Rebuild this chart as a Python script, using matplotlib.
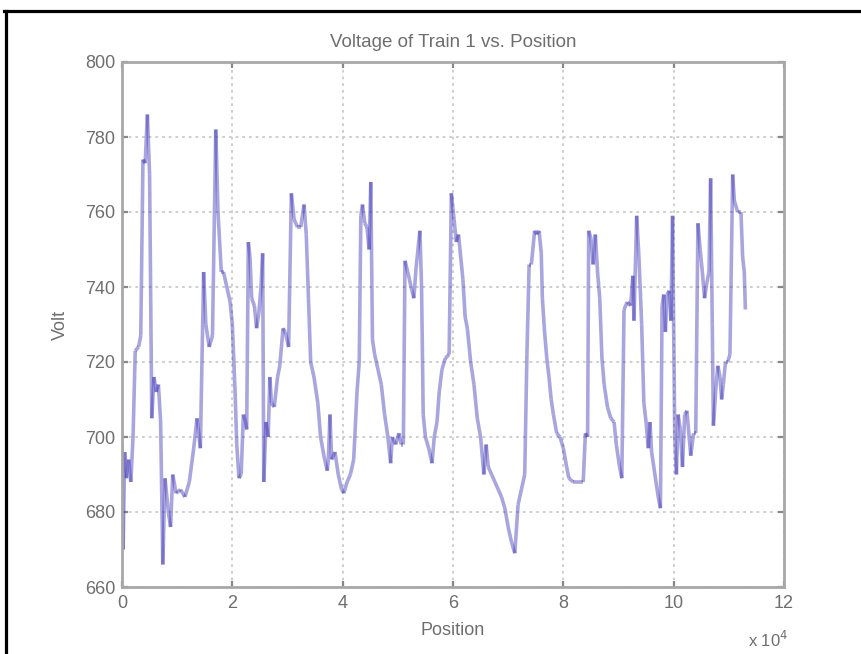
import matplotlib
matplotlib.use('Agg')
import matplotlib.pyplot as plt
from matplotlib.collections import LineCollection
from matplotlib.lines import Line2D
import numpy as np

# position in units of 1e4, voltage in volts
position_1e4 = [
    0.00, 0.02, 0.05, 0.08, 0.12, 0.16, 0.20, 0.24, 0.30, 0.34, 0.38, 0.42, 0.46, 0.50,
    0.54, 0.58, 0.62, 0.66, 0.70, 0.74, 0.78, 0.84, 0.88, 0.92, 0.98, 1.06, 1.14, 1.22,
    1.30, 1.36, 1.42, 1.48, 1.52, 1.58, 1.64, 1.70, 1.74, 1.80,
    1.84, 1.90, 1.96, 2.00, 2.05, 2.08, 2.12, 2.16, 2.20, 2.24, 2.26, 2.29, 2.32, 2.35,
    2.40, 2.44, 2.48, 2.52, 2.55, 2.57, 2.61, 2.65, 2.68, 2.71, 2.76, 2.82, 2.86, 2.92,
    2.96, 3.02, 3.07, 3.12, 3.18, 3.24, 3.30, 3.34, 3.38, 3.42, 3.48, 3.55, 3.60, 3.66,
    3.72, 3.74, 3.77, 3.80, 3.86, 3.92, 3.98, 4.02, 4.08, 4.14, 4.20, 4.26, 4.30, 4.33,
    4.36, 4.40, 4.44, 4.48, 4.51, 4.54, 4.58, 4.64, 4.70, 4.76, 4.82, 4.87, 4.90, 4.96,
    5.02, 5.06, 5.10, 5.13, 5.18, 5.24, 5.29, 5.33, 5.40, 5.43, 5.46, 5.50, 5.56, 5.62,
    5.66, 5.71, 5.75, 5.80, 5.86, 5.93, 5.97, 6.02, 6.06, 6.10, 6.14, 6.18, 6.22, 6.26,
    6.32, 6.38, 6.44, 6.50, 6.56, 6.60, 6.64, 6.70, 6.76, 6.82, 6.88, 6.94, 7.00, 7.06,
    7.12, 7.18, 7.24, 7.30, 7.34, 7.38, 7.42, 7.48, 7.52, 7.56, 7.60, 7.62, 7.66, 7.70,
    7.74, 7.78, 7.82, 7.88, 7.94, 8.00, 8.06, 8.10, 8.18, 8.28, 8.36, 8.40, 8.44, 8.46,
    8.50, 8.54, 8.58, 8.62, 8.66, 8.70, 8.74, 8.80, 8.86, 8.92, 8.96, 9.02, 9.06, 9.10,
    9.16, 9.22, 9.26, 9.28, 9.33, 9.37, 9.42, 9.46, 9.50, 9.54, 9.57, 9.60, 9.64, 9.68,
    9.72, 9.76, 9.79, 9.82, 9.85, 9.88, 9.92, 9.95, 9.98, 10.02, 10.05, 10.08, 10.12,
    10.16, 10.20, 10.24, 10.28, 10.31, 10.36, 10.40, 10.44, 10.48, 10.52, 10.56, 10.60,
    10.64, 10.67, 10.70, 10.72, 10.76, 10.80, 10.84, 10.87, 10.90, 10.94, 10.98, 11.02,
    11.07, 11.10, 11.16, 11.22, 11.25, 11.28, 11.30,
]
voltage = [
    698, 670, 696, 689, 694, 688, 700, 723, 724, 727, 774, 773, 786, 770,
    705, 716, 712, 714, 704, 666, 689, 680, 676, 690, 685, 686, 684, 688,
    697, 705, 697, 744, 730, 724, 727, 782, 760, 744,
    744, 740, 736, 730, 712, 698, 689, 690, 706, 704, 702, 752, 748, 737,
    735, 729, 733, 740, 749, 688, 704, 700, 716, 709, 708, 716, 719, 729,
    728, 724, 765, 758, 756, 756, 762, 754, 737, 720, 716, 709, 700, 695,
    691, 694, 706, 694, 696, 690, 686, 685, 688, 690, 694, 712, 720, 759,
    762, 757, 756, 750, 768, 726, 722, 718, 714, 706, 700, 693, 700, 698,
    701, 698, 698, 747, 744, 740, 737, 745, 755, 740, 706, 700, 697, 693,
    700, 704, 712, 718, 721, 722, 765, 758, 752, 754, 748, 742, 732, 729,
    720, 714, 705, 700, 690, 698, 692, 690, 688, 686, 684, 681, 676, 672,
    669, 682, 686, 690, 722, 746, 746, 755, 754, 755, 749, 737, 728, 721,
    716, 710, 706, 701, 700, 697, 692, 689, 688, 688, 688, 701, 700, 755,
    753, 746, 754, 744, 737, 721, 714, 708, 705, 704, 698, 692, 689, 734,
    736, 735, 743, 731, 759, 748, 730, 709, 704, 697, 704, 696, 692, 688,
    684, 681, 735, 738, 728, 738, 739, 731, 759, 700, 690, 706, 702,
    692, 706, 707, 700, 695, 701, 701, 757, 750, 744, 737, 741,
    744, 769, 730, 703, 712, 719, 716, 710, 714, 720, 720, 722,
    770, 763, 760, 760, 748, 744, 734,
]

x_ticks = [0, 2, 4, 6, 8, 10, 12]
y_ticks = [660, 680, 700, 720, 740, 760, 780, 800]

text_color = '#6e6e6e'
axis_color = '#a8a8a8'
font = 'Liberation Sans'

fig = plt.figure(figsize=(8.61, 6.54), dpi=100)
ax = fig.add_axes([122 / 861, 1 - 587 / 654, (784 - 122) / 861, (587 - 62) / 654])

ax.grid(True, color='#cacaca', linestyle=(0, (1.5, 2.2)), linewidth=1.3)
ax.set_axisbelow(True)

# draw segment by segment so overlapping strokes darken like the blurry original
pts = np.column_stack([position_1e4, voltage])
segs = np.stack([pts[:-1], pts[1:]], axis=1)
lc = LineCollection(segs, colors=[(0.25, 0.22, 0.72, 0.45)], linewidths=2.6, capstyle='butt')
ax.add_collection(lc)

ax.set_xlim(0, 12)
ax.set_ylim(660, 800)
ax.set_xticks(x_ticks)
ax.set_yticks(y_ticks)
ax.set_xticklabels([str(t) for t in x_ticks], fontfamily=font, fontsize=13)
ax.set_yticklabels([str(t) for t in y_ticks], fontfamily=font, fontsize=13)
ax.tick_params(direction='in', top=True, right=True, length=4, width=1.6,
               color='#888888', labelcolor=text_color)
ax.tick_params(axis='x', pad=6)
ax.tick_params(axis='y', pad=5)
for sp in ax.spines.values():
    sp.set_color(axis_color)
    sp.set_linewidth(2.0)

ax.set_title('Voltage of Train 1 vs. Position', fontfamily=font, fontsize=13.5,
             color=text_color, pad=11)
ax.set_xlabel('Position', fontfamily=font, fontsize=13, color=text_color, labelpad=7)
ax.set_ylabel('Volt', fontfamily=font, fontsize=13, color=text_color, labelpad=11)
fig.text(788 / 861, 1 - 647 / 654, 'x 10$^{4}$', ha='right', va='baseline',
         fontfamily=font, fontsize=12, color=text_color)

# black frame on the top and left edges of the picture
fig.add_artist(Line2D([4 / 861, 1], [1 - 11 / 654, 1 - 11 / 654], color='black',
                      linewidth=2.3, transform=fig.transFigure))
fig.add_artist(Line2D([6 / 861, 6 / 861], [0, 1 - 11 / 654], color='black',
                      linewidth=2.3, transform=fig.transFigure))

plt.savefig('out.png', dpi=100)
plt.close(fig)
